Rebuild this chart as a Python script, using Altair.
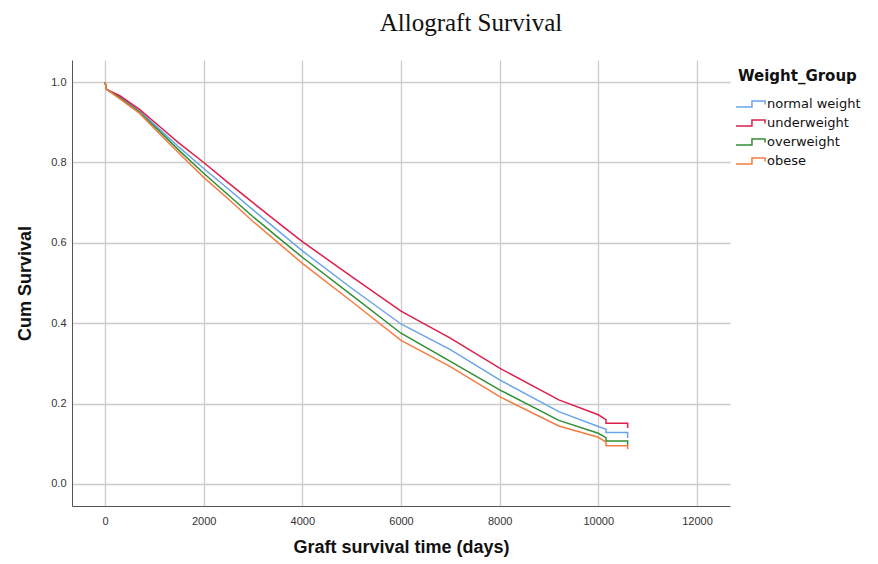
import altair as alt
import pandas as pd

# ---- data ----
GROUPS = ["normal weight", "underweight", "overweight", "obese"]
COLORS = ["#6aa4ea", "#dc1f4b", "#2f8f35", "#f67c42"]

DAYS = [0, 30, 300, 700, 1100, 1500, 2000, 2500, 3000, 3500, 4000, 5000,
        6000, 7000, 8000, 9200, 10000, 10156, 10156, 10595, 10595]

NORMAL = [1.0, 0.982, 0.963, 0.928, 0.883, 0.838, 0.785, 0.734, 0.682, 0.631,
          0.580, 0.487, 0.398, 0.334, 0.259, 0.180, 0.143, 0.136, 0.128, 0.128, 0.114]
UNDER = [1.0, 0.982, 0.966, 0.932, 0.890, 0.848, 0.800, 0.749, 0.700, 0.651,
         0.603, 0.516, 0.430, 0.363, 0.288, 0.209, 0.172, 0.160, 0.151, 0.151, 0.139]
OVER = [1.0, 0.982, 0.961, 0.925, 0.878, 0.830, 0.773, 0.719, 0.665, 0.614,
        0.564, 0.470, 0.375, 0.305, 0.234, 0.158, 0.126, 0.115, 0.107, 0.107, 0.097]
OBESE = [1.0, 0.982, 0.958, 0.922, 0.872, 0.823, 0.763, 0.709, 0.653, 0.601,
         0.549, 0.454, 0.357, 0.292, 0.217, 0.144, 0.116, 0.104, 0.095, 0.095, 0.086]

X_TICKS = [0, 2000, 4000, 6000, 8000, 10000, 12000]
Y_TICKS = [0.0, 0.2, 0.4, 0.6, 0.8, 1.0]

rows = []
for g, vals in zip(GROUPS, [NORMAL, UNDER, OVER, OBESE]):
    for i, (d, v) in enumerate(zip(DAYS, vals)):
        rows.append({"group": g, "days": d, "surv": v, "idx": i})
df = pd.DataFrame(rows)

STEP_PATH = "M-1.33,0.32 L0.44,0.32 L0.44,-0.32 L1.89,-0.32 L1.89,0.05"

chart = alt.Chart(df).mark_line(strokeWidth=1.5, interpolate="linear").encode(
    x=alt.X("days:Q",
            scale=alt.Scale(domain=[-670, 12670], nice=False, zero=False),
            axis=alt.Axis(values=X_TICKS, title="Graft survival time (days)", format="d",
                          ticks=False, labelPadding=9, titlePadding=12)),
    y=alt.Y("surv:Q",
            scale=alt.Scale(domain=[-0.055, 1.055], nice=False, zero=False),
            axis=alt.Axis(values=Y_TICKS, title="Cum Survival", format=".1f",
                          ticks=False, labelPadding=6, titlePadding=16)),
    color=alt.Color("group:N",
                    scale=alt.Scale(domain=GROUPS, range=COLORS),
                    sort=GROUPS,
                    legend=alt.Legend(title="Weight_Group", orient="none",
                                      legendX=666, legendY=9,
                                      symbolType=STEP_PATH, symbolSize=324,
                                      symbolStrokeWidth=1.5,
                                      symbolFillColor="transparent",
                                      labelOffset=9, rowPadding=2,
                                      titlePadding=10)),
    order=alt.Order("idx:Q"),
).properties(
    width=658,
    height=446,
    autosize=alt.AutoSizeParams(type="none"),
    padding={"left": 64, "top": 52, "right": 140, "bottom": 54},
    title=alt.TitleParams("Allograft Survival", font="Liberation Serif", fontSize=25,
                          fontWeight="normal", color="#111111", anchor="middle",
                          dx=70, dy=26, offset=25, baseline="bottom"),
).configure_view(
    stroke=None
).configure_axis(
    labelFont="Liberation Sans", labelFontSize=11, labelColor="#333333",
    titleFont="Liberation Sans", titleFontSize=18, titleFontWeight="bold",
    titleColor="#111111",
    gridColor="#cccccc", gridWidth=1.3,
    domainColor="#555555", domainWidth=1,
).configure_legend(
    titleFont="DejaVu Sans", titleFontSize=15, titleFontWeight="bold", titleColor="#111111",
    labelFont="DejaVu Sans", labelFontSize=13, labelColor="#111111",
)

chart.save("out.html", embed_options={"renderer": "svg", "actions": False})
